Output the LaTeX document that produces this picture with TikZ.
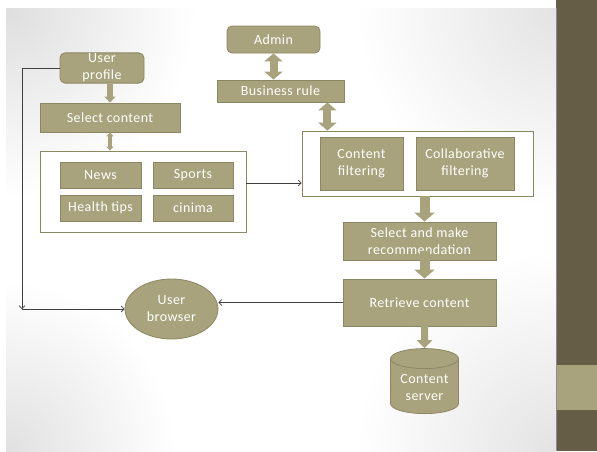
\documentclass[tikz,border=0pt]{standalone}
\usepackage{fontspec}
\setmainfont{Carlito}[LetterSpace=3]
\usetikzlibrary{shapes.geometric,arrows.meta,calc}
\definecolor{olive}{HTML}{A8A37C}
\definecolor{oliveline}{HTML}{8C8763}
\definecolor{bandDark}{HTML}{655D45}
\definecolor{linkgray}{HTML}{3F3F3F}
\tikzset{
    box/.style={draw=oliveline, fill=olive, line width=.8pt, text=white,
        align=center, inner sep=1pt, font=\fontsize{14}{17}\selectfont},
    rbox/.style={box, rounded corners=5pt},
    frame/.style={draw=oliveline, fill=white, line width=.8pt},
    link/.style={draw=linkgray, line width=.7pt, -{Straight Barb[length=3pt,width=6pt]}},
    bigarrow/.style={draw=olive, line width=#1},
    pointer/.style={-{Triangle[width=20pt,length=9pt]}},
    bothway/.style={{Triangle[width=#1,length=8pt]}-{Triangle[width=#1,length=8pt]}}
}

\begin{document}
\begin{tikzpicture}[x=1pt,y=-1pt]
        \useasboundingbox (0,0) rectangle (597,451);
        \fill[white] (0,0) rectangle (597,451);
        \begin{scope}
            \clip (6,8) rectangle (556,451);
            \shade[inner color=black!13, outer color=white] (6,8) circle (190);
            \shade[inner color=black!12, outer color=white] (6,451) circle (170);
            \shade[inner color=black!11, outer color=white] (556,8) circle (200);
            \shade[inner color=black!11, outer color=white] (556,451) circle (200);
        \end{scope}
        \fill[bandDark] (556,0) rectangle (597,451);
        \fill[olive] (556,365) rectangle (597,410);
        \draw[black!45, line width=.6pt] (556.5,8) -- (556.5,451);

        \node[rbox, minimum width=84pt, minimum height=30pt] (profile) at (102,68) {User\\profile};
        \node[box, minimum width=140pt, minimum height=29pt] (select) at (110,117.5) {Select content};
        \node[frame, minimum width=206pt, minimum height=81pt] (group) at (143,191.5) {};
        \node[box, minimum width=81pt, minimum height=26pt] (news) at (100.5,175) {News};
        \node[box, minimum width=80pt, minimum height=26pt] (sports) at (193,175) {Sports};
        \node[box, minimum width=81pt, minimum height=26pt] (health) at (100.5,208) {Health tips};
        \node[box, minimum width=80pt, minimum height=26pt] (cinima) at (193,208) {cinima};

        \node[rbox, minimum width=93pt, minimum height=27pt] (admin) at (273.5,39.5) {Admin};
        \node[box, minimum width=127pt, minimum height=22pt] (brule) at (280.5,91) {Business rule};
        \node[frame, minimum width=231pt, minimum height=65pt] (fgroup) at (417.5,163.5) {};
        \node[box, minimum width=83pt, minimum height=53pt] (cfilter) at (361.5,163.5) {Content\\filtering};
        \node[box, minimum width=98pt, minimum height=53pt] (collab) at (465,163.5) {Collaborative\\filtering};
        \node[box, minimum width=153pt, minimum height=38pt] (recommend) at (419.5,241) {Select and make\\recommendation};
        \node[box, minimum width=153pt, minimum height=47pt] (retrieve) at (419.5,302.5) {Retrieve content};
        \node[box, cylinder, shape border rotate=90, aspect=.4,
            minimum width=68pt, minimum height=65pt] (server) at (424.5,387.5) {Content\\server};
        \node[box, ellipse, minimum width=93pt, minimum height=60pt] (browser) at (171.5,309) {User\\browser};

        \coordinate (corner) at (22,309);
        \draw[link] (profile.west) -| (corner);
        \draw[link] (corner) -- (browser.west);
        \draw[link] ($(group.east)+(0,-8.5)$) -- ($(group.east -| fgroup.west)+(0,-8.5)$);
        \draw[link] (retrieve.west) -- (retrieve.west -| browser.east);

        \draw[bigarrow=6pt, -{Triangle[width=11pt,length=6pt]}] (select.north |- profile.south) -- (select.north);
        \draw[bigarrow=4pt, {Triangle[width=7pt,length=4pt]}-{Triangle[width=7pt,length=4pt]}] (select.south) -- (select.south |- group.north);
        \draw[bigarrow=8pt, bothway=18pt] (admin.south) -- (admin.south |- brule.north);
        \draw[bigarrow=8pt, bothway=18pt] ($(brule.south east)+(-17,0)$) -- ($(brule.south east |- fgroup.north)+(-17,0)$);
        \draw[bigarrow=10pt, pointer] (fgroup.south -| server) -- (recommend.north -| server);
        \draw[bigarrow=10pt, pointer] ($(recommend.south -| server)+(0,-9)$) -- (retrieve.north -| server);
        \draw[bigarrow=7pt, bothway=15pt] ($(retrieve.south -| server)+(0,-10)$) -- (server.north);
    \end{tikzpicture}
\end{document}
